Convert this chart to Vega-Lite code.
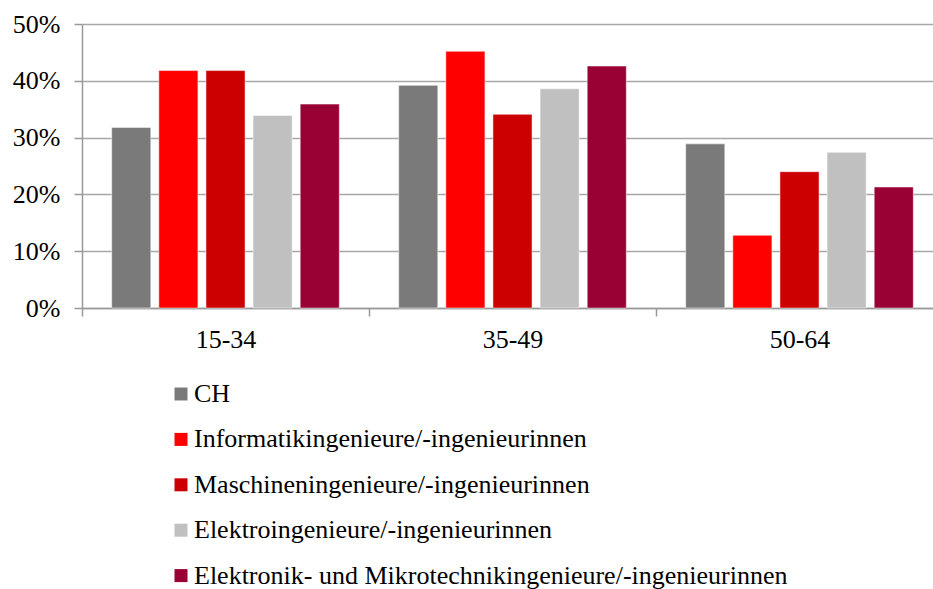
{
  "$schema": "https://vega.github.io/schema/vega-lite/v6.json",
  "autosize": {"type": "none"},
  "padding": {"left": 82, "top": 24, "right": 0, "bottom": 281},
  "width": 851,
  "height": 284,
  "background": "white",
  "config": {
    "view": {"stroke": null},
    "font": "Liberation Serif, Times New Roman, serif",
    "axis": {"labelFont": "Liberation Serif, Times New Roman, serif", "labelColor": "#000000", "labelFontSize": 26},
    "legend": {"labelFont": "Liberation Serif, Times New Roman, serif"}
  },
  "data": {
    "values": [
      {"age": "15-34", "group": "CH", "value": 0.318},
      {"age": "15-34", "group": "Informatikingenieure/-ingenieurinnen", "value": 0.418},
      {"age": "15-34", "group": "Maschineningenieure/-ingenieurinnen", "value": 0.418},
      {"age": "15-34", "group": "Elektroingenieure/-ingenieurinnen", "value": 0.339},
      {"age": "15-34", "group": "Elektronik- und Mikrotechnikingenieure/-ingenieurinnen", "value": 0.359},
      {"age": "35-49", "group": "CH", "value": 0.392},
      {"age": "35-49", "group": "Informatikingenieure/-ingenieurinnen", "value": 0.452},
      {"age": "35-49", "group": "Maschineningenieure/-ingenieurinnen", "value": 0.341},
      {"age": "35-49", "group": "Elektroingenieure/-ingenieurinnen", "value": 0.386},
      {"age": "35-49", "group": "Elektronik- und Mikrotechnikingenieure/-ingenieurinnen", "value": 0.426},
      {"age": "50-64", "group": "CH", "value": 0.289},
      {"age": "50-64", "group": "Informatikingenieure/-ingenieurinnen", "value": 0.128},
      {"age": "50-64", "group": "Maschineningenieure/-ingenieurinnen", "value": 0.240},
      {"age": "50-64", "group": "Elektroingenieure/-ingenieurinnen", "value": 0.274},
      {"age": "50-64", "group": "Elektronik- und Mikrotechnikingenieure/-ingenieurinnen", "value": 0.213}
    ]
  },
  "mark": {"type": "bar", "stroke": "#ffffff", "strokeOpacity": 0.5, "strokeWidth": 1},
  "encoding": {
    "x": {
      "field": "age",
      "type": "nominal",
      "sort": ["15-34", "35-49", "50-64"],
      "scale": {"paddingInner": 0, "paddingOuter": 0, "range": [0, 861]},
      "axis": {
        "title": null,
        "labelAngle": 0,
        "tickBand": "extent",
        "tickSize": 8,
        "tickColor": "#999999",
        "tickWidth": 1.5,
        "domainColor": "#999999",
        "domainWidth": 1.5,
        "labelPadding": 10,
        "grid": false
      }
    },
    "xOffset": {
      "field": "group",
      "type": "nominal",
      "sort": ["CH", "Informatikingenieure/-ingenieurinnen", "Maschineningenieure/-ingenieurinnen", "Elektroingenieure/-ingenieurinnen", "Elektronik- und Mikrotechnikingenieure/-ingenieurinnen"],
      "scale": {"paddingInner": 0.17, "paddingOuter": 0.63}
    },
    "y": {
      "field": "value",
      "type": "quantitative",
      "scale": {"domain": [0, 0.5]},
      "axis": {
        "title": null,
        "format": ".0%",
        "values": [0, 0.1, 0.2, 0.3, 0.4, 0.5],
        "tickSize": 8,
        "tickColor": "#999999",
        "tickWidth": 1.5,
        "domainColor": "#999999",
        "domainWidth": 1.5,
        "gridColor": "#a6a6a6",
        "gridWidth": 1.5,
        "labelPadding": 14
      }
    },
    "color": {
      "field": "group",
      "type": "nominal",
      "sort": ["CH", "Informatikingenieure/-ingenieurinnen", "Maschineningenieure/-ingenieurinnen", "Elektroingenieure/-ingenieurinnen", "Elektronik- und Mikrotechnikingenieure/-ingenieurinnen"],
      "scale": {
        "domain": ["CH", "Informatikingenieure/-ingenieurinnen", "Maschineningenieure/-ingenieurinnen", "Elektroingenieure/-ingenieurinnen", "Elektronik- und Mikrotechnikingenieure/-ingenieurinnen"],
        "range": ["#7a7a7a", "#ff0000", "#cc0000", "#c0c0c0", "#990033"]
      },
      "legend": {
        "title": null,
        "orient": "none",
        "legendX": 86,
        "legendY": 357,
        "direction": "vertical",
        "padding": 0,
        "symbolType": "square",
        "symbolSize": 169,
        "symbolStrokeWidth": 0,
        "labelFontSize": 26,
        "labelColor": "#000000",
        "labelOffset": 0,
        "labelLimit": 0,
        "rowPadding": 19.4
      }
    }
  }
}
